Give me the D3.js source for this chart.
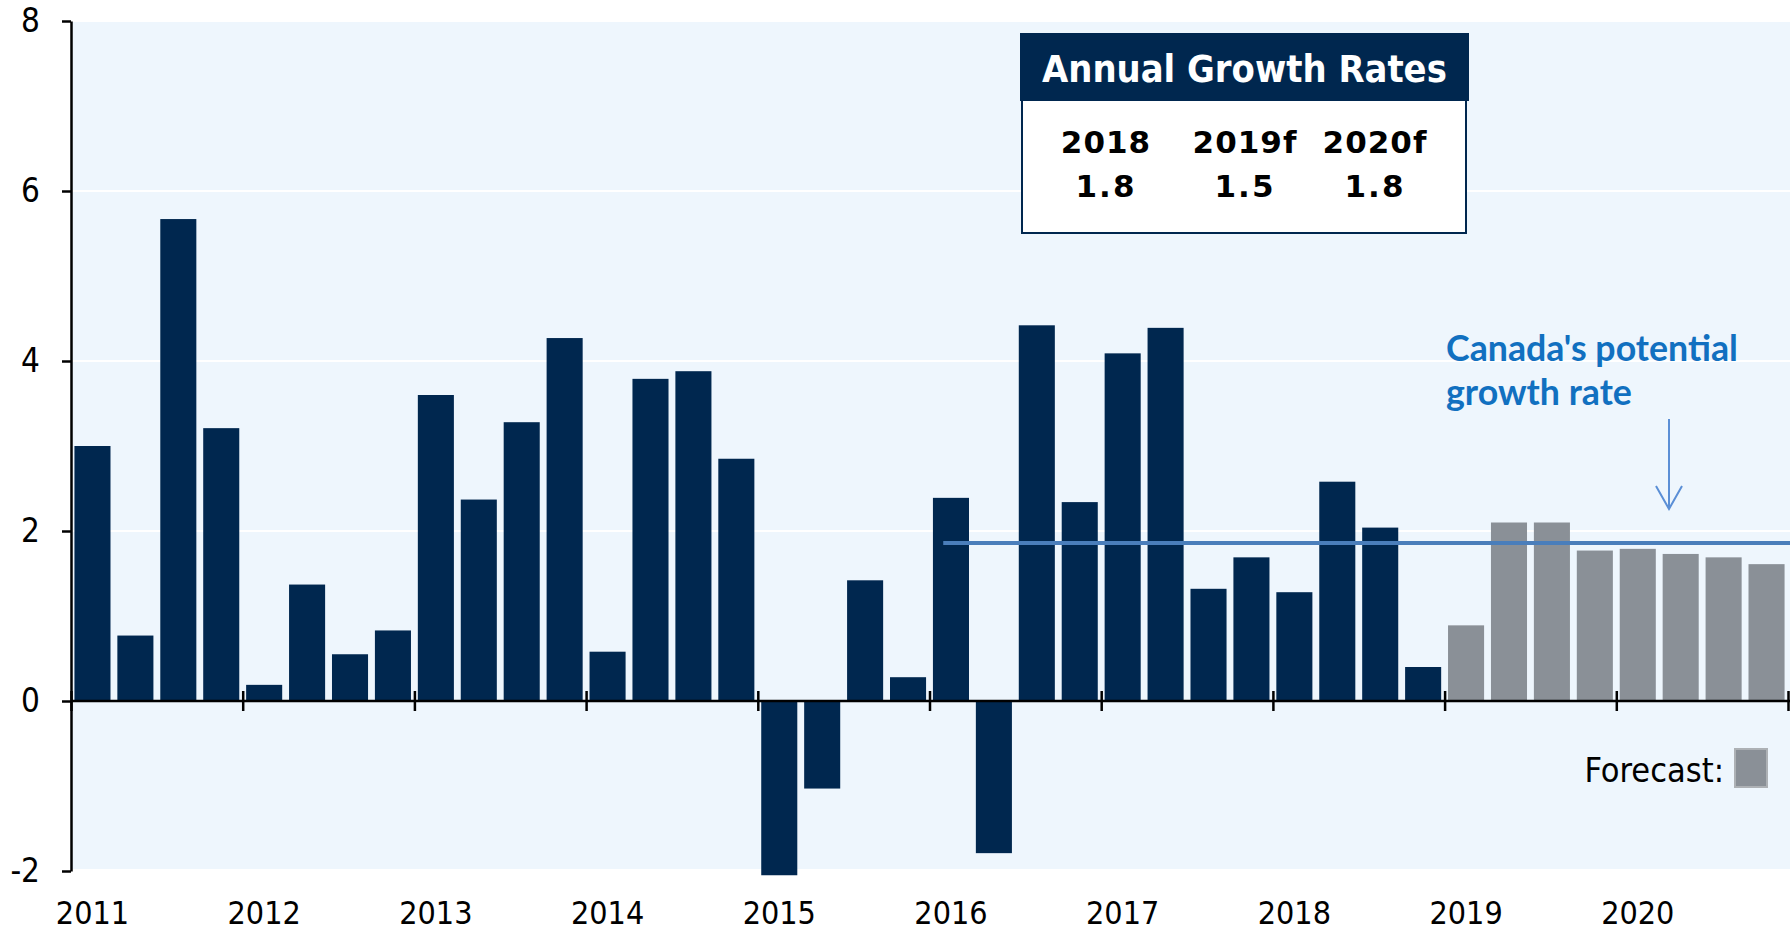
<!DOCTYPE html>
<html>
<head>
<meta charset="utf-8">
<script src="https://cdn.jsdelivr.net/npm/d3@7"></script>
<style>
body { margin: 0; background: #fff; }
svg { display: block; }
</style>
</head>
<body>
<script>
// quarterly real GDP growth, annualized %
var years = [2011, 2012, 2013, 2014, 2015, 2016, 2017, 2018, 2019, 2020];
var quarterNames = ["Q1", "Q2", "Q3", "Q4"];
var growth = [
  3.0, 0.77, 5.67, 3.21,
  0.19, 1.37, 0.55, 0.83,
  3.6, 2.37, 3.28, 4.27,
  0.58, 3.79, 3.88, 2.85,
  -2.05, -1.03, 1.42, 0.28,
  2.39, -1.79, 4.42, 2.34,
  4.09, 4.39, 1.32, 1.69,
  1.28, 2.58, 2.04, 0.40,
  0.89, 2.10, 2.10, 1.77,
  1.79, 1.73, 1.69, 1.61
];
var firstForecast = "2019Q1";
var potentialRate = 1.86;
var potentialFrom = 2016.08;
var yTicks = [-2, 0, 2, 4, 6, 8];
var tableYears = ["2018", "2019f", "2020f"];
var tableRates = ["1.8", "1.5", "1.8"];

var quarters = [];
years.forEach(function(y) { quarterNames.forEach(function(q) { quarters.push(y + q); }); });
var data = quarters.map(function(q, i) { return {q: q, v: growth[i], fc: q >= firstForecast}; });

var width = 1790, height = 933;
var left = 71, right = 1788;
var labelFont = "'Liberation Sans Narrow', 'DejaVu Sans Condensed', sans-serif";

var svg = d3.select("body").append("svg")
  .attr("width", width)
  .attr("height", height);

var x = d3.scaleBand().domain(quarters).range([left, right]).paddingInner(0.16).paddingOuter(0.08);
var xYear = d3.scaleLinear().domain([2011, 2021]).range([left, right]);
var y = d3.scaleLinear().domain([-2, 8]).range([871, 21]);

// plot background
svg.append("rect")
  .attr("x", left + 1).attr("y", y(8))
  .attr("width", width - left - 1).attr("height", y(-2) - y(8) - 2)
  .attr("fill", "#eef6fd");

// white gridlines
svg.append("g").selectAll("line")
  .data(yTicks.filter(function(d) { return d > 0; }))
  .join("line")
  .attr("x1", left).attr("x2", width)
  .attr("y1", function(d) { return y(d); }).attr("y2", function(d) { return y(d); })
  .attr("stroke", "#fff").attr("stroke-width", 2);

// bars
svg.append("g").selectAll("rect")
  .data(data)
  .join("rect")
  .attr("x", function(d) { return x(d.q); })
  .attr("width", x.bandwidth())
  .attr("y", function(d) { return y(Math.max(0, d.v)); })
  .attr("height", function(d) { return Math.abs(y(d.v) - y(0)); })
  .attr("fill", function(d) { return d.fc ? "#8a9097" : "#00274f"; });

// potential growth line
svg.append("line")
  .attr("x1", xYear(potentialFrom)).attr("x2", width)
  .attr("y1", y(potentialRate)).attr("y2", y(potentialRate))
  .attr("stroke", "#4a7ebb").attr("stroke-width", 4);

// x axis along zero
var xAxis = d3.axisBottom(xYear).tickValues(d3.range(2011, 2022)).tickFormat("").tickSizeOuter(0);
var gx = svg.append("g")
  .attr("transform", "translate(0," + y(0) + ")")
  .call(xAxis);
gx.select(".domain").attr("stroke", "#000").attr("stroke-width", 2.5).attr("d", "M" + left + ",0H" + width);
gx.selectAll(".tick line").attr("y1", -10).attr("y2", 10).attr("stroke", "#000").attr("stroke-width", 2.5);

// year labels under Q1 bars
svg.append("g").selectAll("text")
  .data(years)
  .join("text")
  .attr("x", function(d) { return x(d + "Q1") + x.bandwidth() / 2; })
  .attr("y", 924)
  .attr("text-anchor", "middle")
  .style("font-family", labelFont)
  .style("font-size", "32px")
  .text(function(d) { return d; });

// y axis
var yAxis = d3.axisLeft(y).tickValues(yTicks).tickFormat(function(d) { return String(d); })
  .tickSize(9).tickPadding(22).tickSizeOuter(0);
var gy = svg.append("g")
  .attr("transform", "translate(" + left + ",0)")
  .call(yAxis);
gy.select(".domain").attr("stroke", "#000").attr("stroke-width", 2.5);
gy.selectAll(".tick line").attr("stroke", "#000").attr("stroke-width", 2.5);
gy.selectAll(".tick text")
  .style("font-family", labelFont)
  .style("font-size", "33px")
  .attr("fill", "#000");

function fitWidth(sel, w) {
  var len = sel.node().getComputedTextLength();
  var fs = parseFloat(sel.style("font-size"));
  sel.style("font-size", (fs * w / len) + "px");
}

// annual growth table
var table = svg.append("g");
table.append("rect")
  .attr("x", 1022).attr("y", 100).attr("width", 444).attr("height", 133)
  .attr("fill", "#fff").attr("stroke", "#00274f").attr("stroke-width", 2);
table.append("rect")
  .attr("x", 1020).attr("y", 33).attr("width", 449).attr("height", 68)
  .attr("fill", "#00274f");
var head = table.append("text")
  .attr("x", 1042).attr("y", 82)
  .attr("fill", "#fff")
  .style("font-family", "'DejaVu Sans Condensed', 'DejaVu Sans', sans-serif")
  .style("font-weight", "bold")
  .style("font-size", "38px")
  .text("Annual Growth Rates");
fitWidth(head, 405);

var colX = [1106, 1245, 1375];
table.selectAll("text.yr")
  .data(tableYears)
  .join("text")
  .attr("class", "yr")
  .attr("x", function(d, i) { return colX[i]; })
  .attr("y", 153)
  .attr("text-anchor", "middle")
  .style("font-family", "'DejaVu Sans', sans-serif")
  .style("font-weight", "bold")
  .style("font-size", "31px")
  .style("letter-spacing", "1px")
  .text(function(d) { return d; });
table.selectAll("text.rt")
  .data(tableRates)
  .join("text")
  .attr("class", "rt")
  .attr("x", function(d, i) { return colX[i]; })
  .attr("y", 197)
  .attr("text-anchor", "middle")
  .style("font-family", "'DejaVu Sans', sans-serif")
  .style("font-weight", "bold")
  .style("font-size", "31px")
  .style("letter-spacing", "2px")
  .text(function(d) { return d; });

// potential growth annotation
var ann = svg.append("g");
var l1 = ann.append("text")
  .attr("x", 1446).attr("y", 361)
  .attr("fill", "#1170c0")
  .style("font-family", "Lato, 'Open Sans', sans-serif")
  .style("font-weight", "bold")
  .style("font-size", "32px")
  .text("Canada's potential");
fitWidth(l1, 292);
ann.append("text")
  .attr("x", 1446).attr("y", 405)
  .attr("fill", "#1170c0")
  .style("font-family", "Lato, 'Open Sans', sans-serif")
  .style("font-weight", "bold")
  .style("font-size", l1.style("font-size"))
  .text("growth rate");
ann.append("path")
  .attr("d", "M1669,419V508M1656,486L1669,509L1682,486")
  .attr("fill", "none")
  .attr("stroke", "#5b8fd6")
  .attr("stroke-width", 2);

// forecast legend
svg.append("text")
  .attr("x", 1724).attr("y", 782)
  .attr("text-anchor", "end")
  .style("font-family", labelFont)
  .style("font-size", "34px")
  .text("Forecast:");
svg.append("rect")
  .attr("x", 1735).attr("y", 749).attr("width", 32).attr("height", 38)
  .attr("fill", "#8a9097").attr("stroke", "#adb1b5").attr("stroke-width", 2);
</script>
</body>
</html>
